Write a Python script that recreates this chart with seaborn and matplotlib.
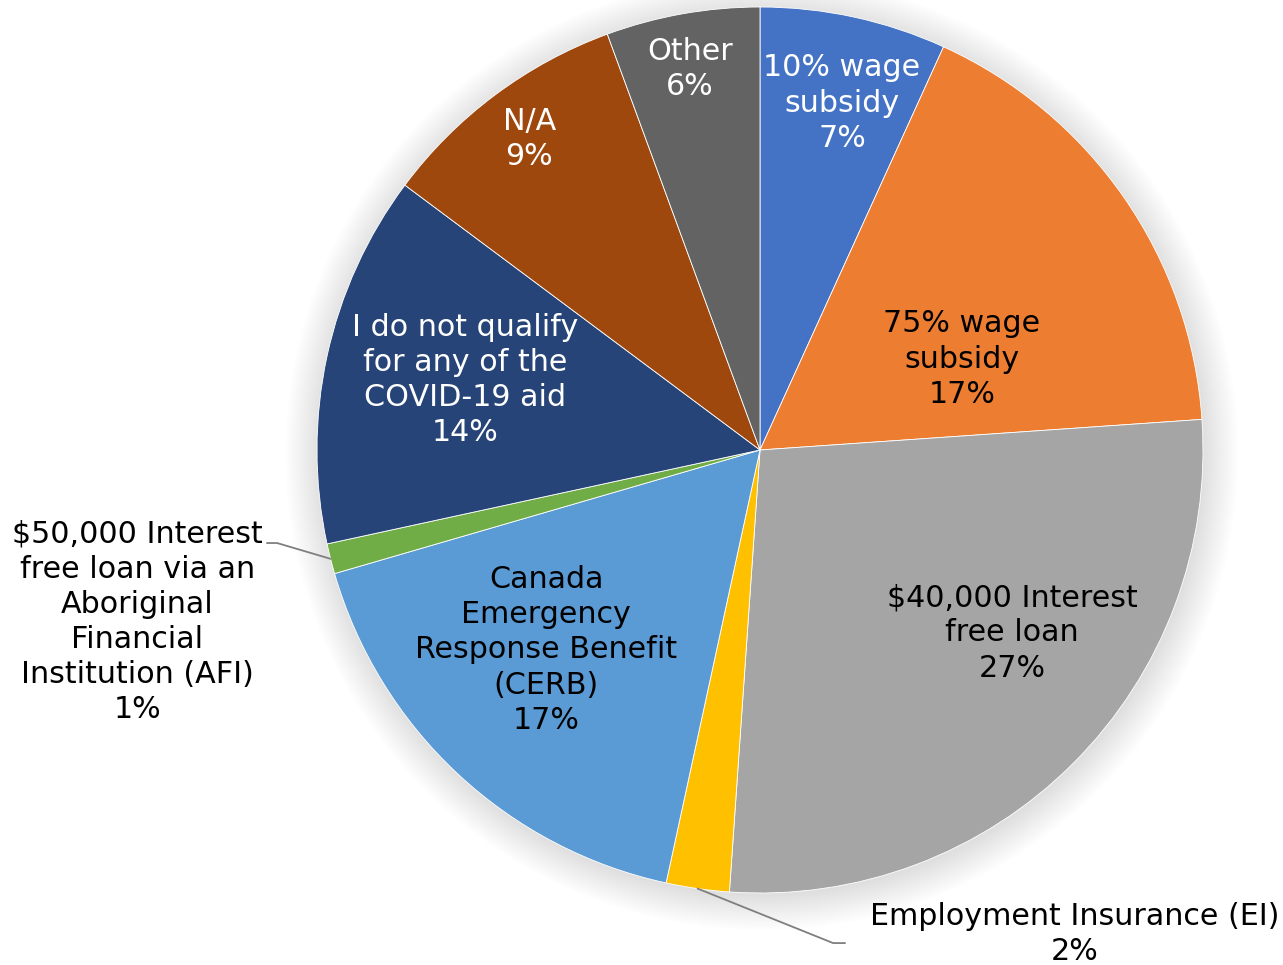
import matplotlib
matplotlib.use("Agg")
import matplotlib.pyplot as plt
import seaborn as sns
import numpy as np

# ====================== DATA ======================
categories = [
    "10% wage\nsubsidy",
    "75% wage\nsubsidy",
    "$40,000 Interest\nfree loan",
    "Employment Insurance (EI)",
    "Canada\nEmergency\nResponse Benefit\n(CERB)",
    "$50,000 Interest\nfree loan via an\nAboriginal\nFinancial\nInstitution (AFI)",
    "I do not qualify\nfor any of the\nCOVID-19 aid",
    "N/A",
    "Other",
]
shares = [6.8, 17.1, 27.2, 2.3, 17.1, 1.1, 13.6, 9.2, 5.6]

# Office-style palette
slice_colors = ["#4472C4", "#ED7D31", "#A5A5A5", "#FFC000", "#5B9BD5",
                "#70AD47", "#264478", "#9E480E", "#636363"]
text_colors = ["white", "black", "black", "black", "black",
               "black", "white", "white", "white"]

# label centres (data units, pie radius = 1)
label_pos = [(0.185, 0.783), (0.456, 0.205), (0.569, -0.413), (0.711, -1.093),
             (-0.483, -0.451), (-1.406, -0.388), (-0.666, 0.158),
             (-0.521, 0.702), (-0.158, 0.860)]
# leader line bend / end for the outside labels
leaders = {3: [(0.165, -1.113), (0.192, -1.113)],
           5: [(-1.090, -0.210), (-1.113, -0.210)]}

# ====================== PLOT ======================
sns.set_theme(style="white")
plt.rcParams["font.family"] = ["DejaVu Sans"]
palette = sns.color_palette(slice_colors)

fig = plt.figure(figsize=(12.83, 9.65), dpi=100)
ax = fig.add_axes([0, 0, 1, 1])

# soft shadow behind the pie
for k in range(16):
    ax.add_patch(plt.Circle((0.004, -0.008), 1.0 + k * 0.005,
                            color="black", alpha=0.008, lw=0, zorder=0))

wedges, _ = ax.pie(shares, colors=palette, startangle=90, counterclock=False,
                   radius=1.0,
                   wedgeprops=dict(edgecolor="white", linewidth=0.6, zorder=2))

for i, w in enumerate(wedges):
    pct = f"{shares[i]:.0f}%"
    x, y = label_pos[i]
    ax.text(x, y, f"{categories[i]}\n{pct}", ha="center", va="center",
            fontsize=21.7, color=text_colors[i], linespacing=1.27, zorder=5)
    if i in leaders:
        mid = np.deg2rad((w.theta1 + w.theta2) / 2)
        pts = [(np.cos(mid), np.sin(mid))] + leaders[i]
        xs, ys = zip(*pts)
        ax.plot(xs, ys, color="#7F7F7F", lw=1.3, zorder=3)

ax.set_xlim(-760 / 443, (1283 - 760) / 443)
ax.set_ylim(-(965 - 450) / 443, 450 / 443)
ax.set_aspect("auto")
ax.axis("off")

fig.savefig("out.png", dpi=100)
